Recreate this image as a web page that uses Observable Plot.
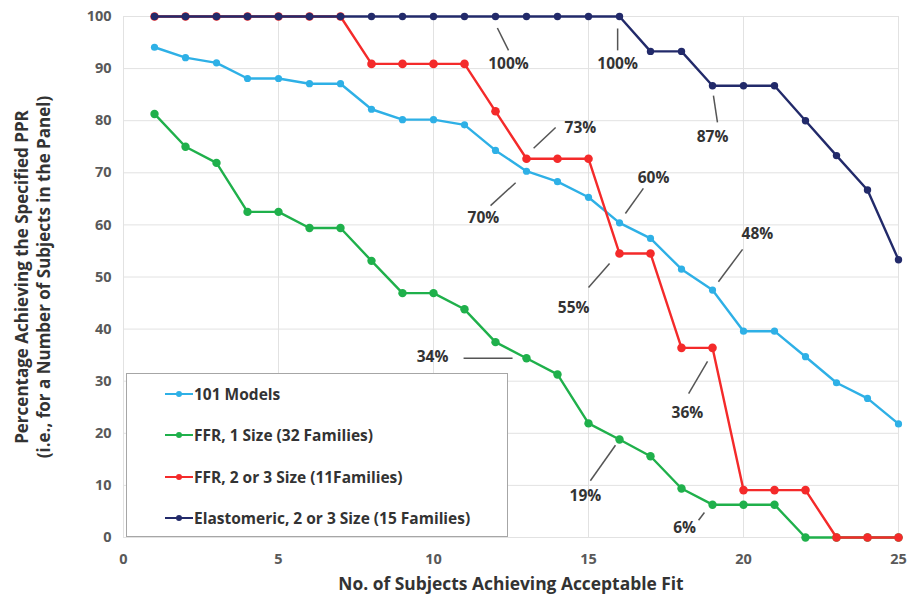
<!DOCTYPE html>
<html>
<head>
<meta charset="utf-8">
<script src="https://cdn.jsdelivr.net/npm/d3@7"></script>
<script src="https://cdn.jsdelivr.net/npm/@observablehq/plot@0.6"></script>
<style>
  html, body { margin: 0; padding: 0; background: #fff; }
  #wrap { position: relative; width: 907px; height: 599px; font-family: "Open Sans", sans-serif; }
  #legend { position: absolute; left: 126px; top: 373px; width: 382px; height: 164px;
            background: #fff; border: 1.5px solid #a6a6a6; box-sizing: border-box; }
  .item { position: absolute; left: 38px; height: 20px; display: flex; align-items: center;
          font-weight: bold; font-size: 15.5px; color: #333; white-space: nowrap; }
  .item svg { margin-right: 1px; }
</style>
</head>
<body>
<div id="wrap"><div id="chart"></div><div id="legend"></div></div>
<script>
const xValues = d3.range(1, 26);
const seriesNames = ["101 Models", "FFR, 1 Size (32 Families)", "FFR, 2 or 3 Size (11Families)", "Elastomeric, 2 or 3 Size (15 Families)"];
const seriesColors = ["#2eb0e6", "#1fb04b", "#f42a2a", "#222a6a"];
const dotRadius = [3.6, 4.2, 4.3, 3.7];

const models101 = [94.1, 92.1, 91.1, 88.1, 88.1, 87.1, 87.1, 82.2, 80.2, 80.2, 79.2, 74.3, 70.3, 68.3, 65.3, 60.4, 57.4, 51.5, 47.5, 39.6, 39.6, 34.7, 29.7, 26.7, 21.8];
const ffr1Size = [81.3, 75.0, 71.9, 62.5, 62.5, 59.4, 59.4, 53.1, 46.9, 46.9, 43.8, 37.5, 34.4, 31.3, 21.9, 18.8, 15.6, 9.4, 6.3, 6.3, 6.3, 0, 0, 0, 0];
const ffr23Size = [100, 100, 100, 100, 100, 100, 100, 90.9, 90.9, 90.9, 90.9, 81.8, 72.7, 72.7, 72.7, 54.5, 54.5, 36.4, 36.4, 9.1, 9.1, 9.1, 0, 0, 0];
const elastomeric = [100, 100, 100, 100, 100, 100, 100, 100, 100, 100, 100, 100, 100, 100, 100, 100, 93.3, 93.3, 86.7, 86.7, 86.7, 80.0, 73.3, 66.7, 53.3];
const seriesValues = [models101, ffr1Size, ffr23Size, elastomeric];

const xTicks = [0, 5, 10, 15, 20, 25];
const yTicks = d3.range(0, 101, 10);

// annotation labels (label position) and leader lines (from -> to), in data units
const annLabels = ["100%", "100%", "87%", "73%", "70%", "60%", "55%", "48%", "36%", "34%", "19%", "6%"];
const annLabelX = [12.42, 15.94, 19.0, 14.74, 11.61, 17.1, 14.52, 20.45, 18.19, 9.97, 14.9, 18.1];
const annLabelY = [90.8, 90.8, 76.8, 78.5, 61.4, 68.9, 44.1, 58.3, 23.8, 34.7, 7.9, 1.9];
const leadX1 = [12.06, 15.94, 19.03, 13.23, 11.84, 16.19, 15.0, 19.19, 18.23, 10.97, 15.06, 18.55];
const leadY1 = [97.8, 97.7, 84.8, 74.7, 63.7, 62.2, 48.0, 49.1, 27.6, 34.4, 10.9, 3.3];
const leadX2 = [12.42, 15.94, 19.16, 13.94, 12.65, 16.77, 15.68, 19.97, 18.84, 12.55, 15.87, 18.74];
const leadY2 = [93.5, 93.5, 79.7, 78.7, 68.1, 67.0, 52.6, 55.3, 33.8, 34.4, 17.7, 4.8];

const xLabel = "No. of Subjects Achieving Acceptable Fit";
const yLabel = "Percentage Achieving the Specified PPR\n(i.e., for a Number of Subjects in the Panel)";

const rows = [];
seriesNames.forEach((s, i) => xValues.forEach((x, j) => rows.push({series: s, idx: i, x, y: seriesValues[i][j]})));
const anns = annLabels.map((t, i) => ({t, x: annLabelX[i], y: annLabelY[i], x1: leadX1[i], y1: leadY1[i], x2: leadX2[i], y2: leadY2[i]}));

const seriesMarks = [];
seriesNames.forEach((s, i) => {
  const d = rows.filter(r => r.idx === i);
  seriesMarks.push(Plot.line(d, {x: "x", y: "y", stroke: seriesColors[i], strokeWidth: 2.4}));
  seriesMarks.push(Plot.dot(d, {x: "x", y: "y", fill: seriesColors[i], r: dotRadius[i]}));
});

const chart = Plot.plot({
  width: 907, height: 599,
  marginLeft: 123, marginRight: 9, marginTop: 16, marginBottom: 62,
  style: {fontFamily: "'Open Sans', sans-serif", fontWeight: "bold", fontSize: "14.5px", color: "#595959", background: "#fff"},
  x: {domain: [0, 25], ticks: xTicks, tickSize: 0, tickPadding: 16, label: null},
  y: {domain: [0, 100], ticks: yTicks, tickSize: 0, tickPadding: 12, label: null},
  marks: [
    Plot.ruleX(xTicks, {x: d => d, stroke: "#e2e2e2", strokeWidth: 1}),
    Plot.ruleY(yTicks, {y: d => d, stroke: "#e2e2e2", strokeWidth: 1}),
    ...seriesMarks,
    Plot.link(anns, {x1: "x1", y1: "y1", x2: "x2", y2: "y2", stroke: "#555", strokeWidth: 1.5}),
    Plot.text(anns, {x: "x", y: "y", text: "t", fill: "#333", fontSize: 15.5, fontWeight: "bold"}),
    Plot.text([xLabel], {frameAnchor: "bottom", dy: 52, fill: "#333", fontSize: 17.4, fontWeight: "bold"}),
    Plot.text([yLabel], {frameAnchor: "left", textAnchor: "middle", lineAnchor: "middle", dx: -92, rotate: -90, fill: "#333", fontSize: 17, fontWeight: "bold", lineHeight: 1.3})
  ]
});
document.getElementById("chart").appendChild(chart);

const legend = document.getElementById("legend");
const rowTops = [10, 51, 93, 134];
seriesNames.forEach((s, i) => {
  const div = document.createElement("div");
  div.className = "item";
  div.style.top = rowTops[i] + "px";
  div.innerHTML = `<svg width="28" height="10"><line x1="0" y1="5" x2="28" y2="5" stroke="${seriesColors[i]}" stroke-width="2"/><circle cx="14" cy="5" r="3" fill="${seriesColors[i]}"/></svg>` + s;
  legend.appendChild(div);
});
</script>
</body>
</html>
